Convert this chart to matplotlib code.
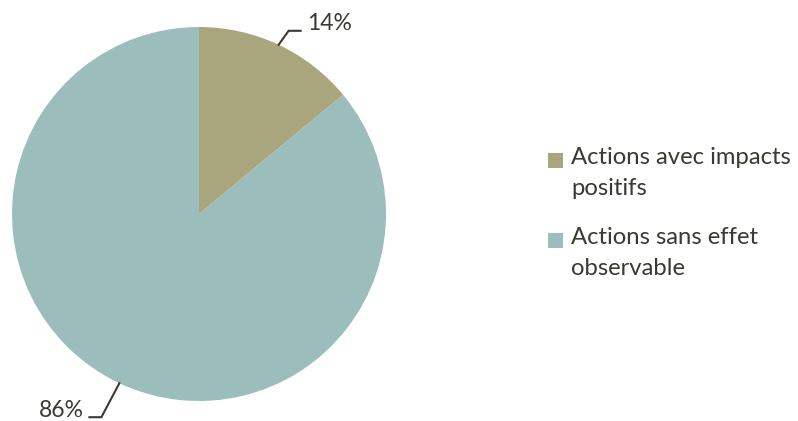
import matplotlib
matplotlib.use("Agg")
import matplotlib.pyplot as plt
import numpy as np
from matplotlib.patches import Rectangle

labels = ["Actions avec impacts\npositifs", "Actions sans effet\nobservable"]
values = [14, 86]
colors = ["#A9A57C", "#9BBDBC"]
pct_labels = ["14%", "86%"]

text_color = "#3A3933"
plt.rcParams['font.family'] = ['Lato', 'DejaVu Sans']

fig = plt.figure(figsize=(7.98, 4.21), dpi=100)
W, H = 798, 421
cx, cy, r = 199, 214, 187
ax = fig.add_axes([(cx - r) / W, (H - cy - r) / H, 2 * r / W, 2 * r / H])
wedges, _ = ax.pie(values, colors=colors, startangle=90, counterclock=False,
                   radius=1, wedgeprops=dict(linewidth=0))
ax.set_xlim(-1, 1)
ax.set_ylim(-1, 1)
ax.set_aspect('equal')
ax.axis('off')

# leader lines + percentage labels (offsets in pixels / radius)
offsets = [((10, 14), (12, 0), 'left'), ((-18, -34), (-12, 0), 'right')]
for w, txt, (d1, d2, ha) in zip(wedges, pct_labels, offsets):
    ang = np.deg2rad((w.theta1 + w.theta2) / 2)
    x0, y0 = np.cos(ang), np.sin(ang)
    x1, y1 = x0 + d1[0] / r, y0 + d1[1] / r
    x2, y2 = x1 + d2[0] / r, y1
    ax.plot([x0, x1, x2], [y0, y1, y2], color=text_color, lw=1.5,
            clip_on=False, solid_joinstyle='miter')
    tx = x2 + (6 / r if ha == 'left' else -6 / r)
    ax.text(tx, y2 + 7 / r, txt, ha=ha, va='center', fontsize=16.5,
            color=text_color, clip_on=False)

# legend drawn by hand: square aligned with first line
for i, (lab, col) in enumerate(zip(labels, colors)):
    top = 147 + i * 80
    fig.patches.append(Rectangle((548 / W, 1 - (top + 21) / H), 15 / W, 15 / H,
                                 transform=fig.transFigure, facecolor=col,
                                 edgecolor='none'))
    fig.text(571 / W, 1 - top / H, lab, ha='left', va='top', fontsize=17.2,
             color=text_color, linespacing=1.6)

fig.savefig("out.png", dpi=100)
